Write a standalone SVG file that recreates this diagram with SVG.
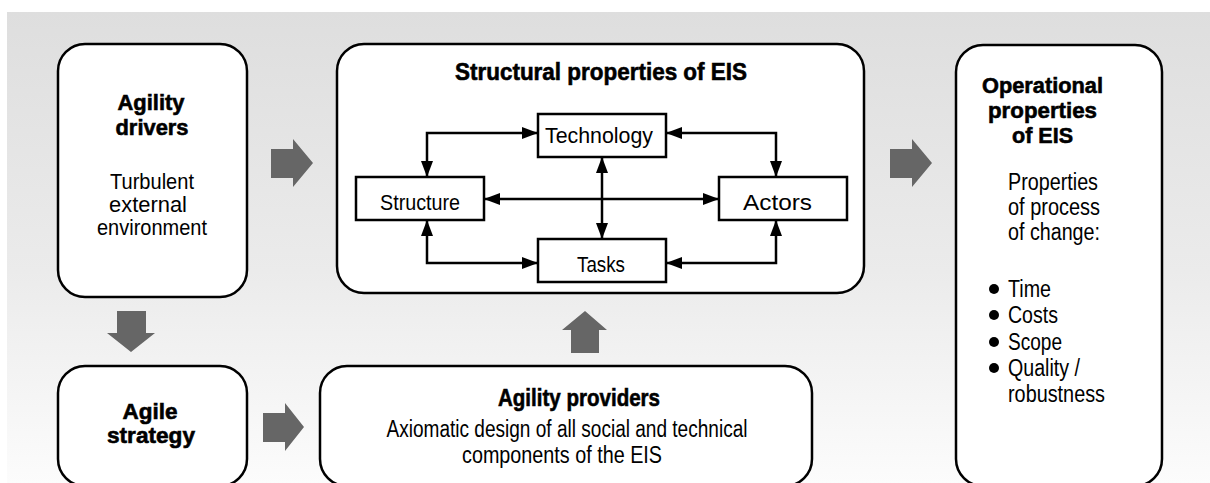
<svg xmlns="http://www.w3.org/2000/svg" width="1210" height="483" viewBox="0 0 1210 483">
  <defs>
    <linearGradient id="bg" x1="0" y1="0" x2="0" y2="1">
      <stop offset="0" stop-color="#dedede"/>
      <stop offset="0.55" stop-color="#ebebeb"/>
      <stop offset="1" stop-color="#fcfcfc"/>
    </linearGradient>
    <marker id="tip" viewBox="0 0 16 12" markerWidth="16" markerHeight="12" refX="16" refY="6" orient="auto-start-reverse" markerUnits="userSpaceOnUse">
      <path d="M0,0 L16,6 L0,12 z" fill="#000"/>
    </marker>
  </defs>
  <style>
    .panel { fill: #fff; stroke: #000; stroke-width: 2.5; }
    .box { fill: #fff; stroke: #000; stroke-width: 2.5; }
    .link { fill: none; stroke: #000; stroke-width: 2.5; marker-start: url(#tip); marker-end: url(#tip); }
    .flow { fill: #666; }
    text { font-family: "Liberation Sans", Arial, sans-serif; fill: #000; }
    .h { font-weight: bold; font-size: 24px; stroke: #000; stroke-width: 0.6; }
    .t { font-size: 23.5px; }
    .n { font-size: 22px; }
    .c { text-anchor: middle; }
    .tight { font-size: 22.5px; }
    .small { font-size: 21.5px; }
  </style>

  <!-- shaded backdrop -->
  <rect x="7" y="12" width="1203" height="471" fill="url(#bg)"/>

  <!-- block arrows between panels -->
  <g id="flows">
    <path class="flow" d="M271,149 H293 V139 L313,163 L293,187 V178 H271 z"/>
    <path class="flow" d="M890,149 H912 V139 L932,163 L912,187 V178 H890 z"/>
    <path class="flow" d="M263,413 H285 V403 L304,427 L285,451 V442 H263 z"/>
    <path class="flow" d="M117,311 H146 V333 H155 L131,352 L107,333 H117 z"/>
    <path class="flow" d="M571,353 V330 H562 L585,311 L607,330 H599 V353 z"/>
  </g>

  <g id="agility-drivers">
    <rect class="panel" x="58" y="44" width="189" height="253" rx="27" ry="27"/>
    <text class="h c tight" x="151" y="110" textLength="67" lengthAdjust="spacingAndGlyphs">Agility</text>
    <text class="h c tight" x="152" y="135" textLength="73" lengthAdjust="spacingAndGlyphs">drivers</text>
    <text class="t c small" x="152" y="189" textLength="84" lengthAdjust="spacingAndGlyphs">Turbulent</text>
    <text class="t c small" x="148" y="212" textLength="78" lengthAdjust="spacingAndGlyphs">external</text>
    <text class="t c small" x="152" y="235" textLength="110" lengthAdjust="spacingAndGlyphs">environment</text>
  </g>

  <g id="agile-strategy">
    <rect class="panel" x="58" y="366" width="189" height="120" rx="27" ry="27"/>
    <text class="h c tight" x="150" y="419" textLength="55" lengthAdjust="spacingAndGlyphs">Agile</text>
    <text class="h c tight" x="151" y="443" textLength="88" lengthAdjust="spacingAndGlyphs">strategy</text>
  </g>

  <g id="structural-properties">
    <rect class="panel" x="337" y="44" width="527" height="249" rx="27" ry="27"/>
    <text class="h c" x="601" y="80" font-size="23" textLength="292" lengthAdjust="spacingAndGlyphs">Structural properties of EIS</text>
  </g>

  <g id="agility-providers">
    <rect class="panel" x="320" y="366" width="492" height="120" rx="27" ry="27"/>
    <text class="h c" x="579" y="406" textLength="162" lengthAdjust="spacingAndGlyphs">Agility providers</text>
    <text class="t c" x="567" y="437" textLength="361" lengthAdjust="spacingAndGlyphs">Axiomatic design of all social and technical</text>
    <text class="t c" x="562" y="463" textLength="200" lengthAdjust="spacingAndGlyphs">components of the EIS</text>
  </g>

  <g id="operational-properties">
    <rect class="panel" x="956" y="45" width="206" height="441" rx="27" ry="27"/>
    <text class="h c tight" x="1042.5" y="93" textLength="121" lengthAdjust="spacingAndGlyphs">Operational</text>
    <text class="h c tight" x="1042.5" y="118" textLength="109" lengthAdjust="spacingAndGlyphs">properties</text>
    <text class="h c tight" x="1042.5" y="143" textLength="61" lengthAdjust="spacingAndGlyphs">of EIS</text>
    <text class="t" x="1008" y="190" textLength="90" lengthAdjust="spacingAndGlyphs">Properties</text>
    <text class="t" x="1008" y="215" textLength="92" lengthAdjust="spacingAndGlyphs">of process</text>
    <text class="t" x="1008" y="240" textLength="92" lengthAdjust="spacingAndGlyphs">of change:</text>
    <circle cx="994" cy="289" r="5"/>
    <text class="t" x="1008" y="297" textLength="43" lengthAdjust="spacingAndGlyphs">Time</text>
    <circle cx="994" cy="315" r="5"/>
    <text class="t" x="1008" y="323" textLength="50" lengthAdjust="spacingAndGlyphs">Costs</text>
    <circle cx="994" cy="342" r="5"/>
    <text class="t" x="1008" y="350" textLength="54" lengthAdjust="spacingAndGlyphs">Scope</text>
    <circle cx="994" cy="368" r="5"/>
    <text class="t" x="1008" y="376" textLength="72" lengthAdjust="spacingAndGlyphs">Quality /</text>
    <text class="t" x="1008" y="402" textLength="97" lengthAdjust="spacingAndGlyphs">robustness</text>
  </g>

  <g id="technology">
    <rect class="box" x="538" y="114" width="128" height="43"/>
    <text class="n c" x="599" y="143" textLength="108" lengthAdjust="spacingAndGlyphs">Technology</text>
  </g>
  <g id="structure">
    <rect class="box" x="356" y="177" width="128" height="43"/>
    <text class="n c" x="420" y="210" textLength="80" lengthAdjust="spacingAndGlyphs">Structure</text>
  </g>
  <g id="actors">
    <rect class="box" x="719" y="177" width="128" height="43"/>
    <text class="n c" x="777.5" y="210" textLength="69" lengthAdjust="spacingAndGlyphs">Actors</text>
  </g>
  <g id="tasks">
    <rect class="box" x="538" y="239" width="128" height="43"/>
    <text class="n c" x="601" y="272" textLength="48" lengthAdjust="spacingAndGlyphs">Tasks</text>
  </g>

  <!-- two-way links between the four components -->
  <g id="connectors">
    <path class="link" d="M427,177 V133 H538"/>
    <path class="link" d="M666,133 H776 V177"/>
    <path class="link" d="M484,199 H719"/>
    <path class="link" d="M602,157 V239"/>
    <path class="link" d="M427,220 V263 H538"/>
    <path class="link" d="M776,220 V263 H666"/>
  </g>
</svg>
